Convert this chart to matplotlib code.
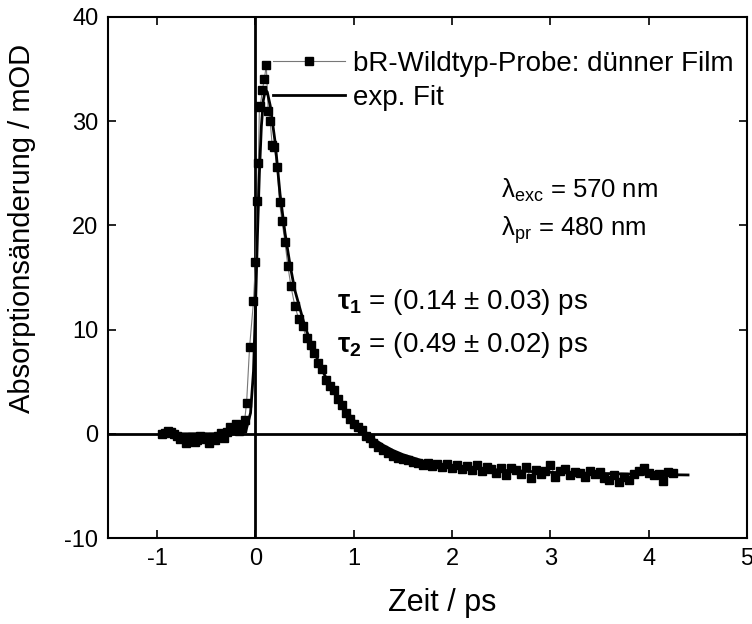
import matplotlib
matplotlib.use("Agg")
import matplotlib.pyplot as plt

plt.rcParams['font.family'] = ['Liberation Sans', 'DejaVu Sans']
plt.rcParams['mathtext.fontset'] = 'custom'
plt.rcParams['mathtext.rm'] = 'Liberation Sans'
plt.rcParams['mathtext.it'] = 'Liberation Sans:italic'
plt.rcParams['mathtext.bf'] = 'Liberation Sans:bold'

# Measured data (time in ps, absorption change in mOD)
t_data = [-0.95, -0.92, -0.89, -0.86, -0.83, -0.80, -0.77, -0.74, -0.71, -0.68,
          -0.65, -0.62, -0.59, -0.56, -0.53, -0.50, -0.47, -0.44, -0.41, -0.38,
          -0.35, -0.32, -0.29, -0.26, -0.23, -0.20, -0.17, -0.14, -0.11, -0.09,
          -0.06, -0.02, 0.00, 0.02, 0.03, 0.04, 0.05, 0.07, 0.09, 0.11,
          0.13, 0.15, 0.17, 0.19, 0.22, 0.245, 0.27, 0.30, 0.33, 0.36,
          0.40, 0.44, 0.48, 0.52, 0.56, 0.60, 0.64, 0.68, 0.72, 0.76,
          0.80, 0.84, 0.88, 0.92, 0.96, 1.00, 1.04, 1.08, 1.12, 1.16,
          1.20, 1.25, 1.30, 1.35, 1.40, 1.45, 1.50, 1.55, 1.60, 1.65,
          1.70, 1.75, 1.80, 1.85, 1.90, 1.95, 2.00, 2.05, 2.10, 2.15,
          2.20, 2.25, 2.30, 2.35, 2.40, 2.45, 2.50, 2.55, 2.60, 2.65,
          2.70, 2.75, 2.80, 2.85, 2.90, 2.95, 3.00, 3.05, 3.10, 3.15,
          3.20, 3.25, 3.30, 3.35, 3.40, 3.45, 3.50, 3.55, 3.60, 3.65,
          3.70, 3.75, 3.80, 3.85, 3.90, 3.95, 4.00, 4.05, 4.10, 4.15,
          4.20, 4.25]
a_data = [0.0, 0.1, 0.3, 0.2, 0.0, -0.2, -0.5, -0.4, -0.9, -0.7,
          -0.3, -0.8, -0.6, -0.2, -0.3, -0.5, -0.9, -0.3, -0.6, -0.2,
          0.1, -0.4, 0.2, 0.7, 0.4, 0.9, 0.3, 0.6, 1.3, 3.0,
          8.3, 12.7, 16.5, 22.3, 26.0, 31.4, 31.5, 33.0, 34.0, 35.4,
          31.0, 30.0, 27.7, 27.5, 25.6, 22.2, 20.4, 18.4, 16.1, 14.2,
          12.3, 11.0, 10.3, 9.2, 8.5, 7.8, 6.8, 6.2, 5.2, 4.6,
          4.2, 3.3, 2.8, 2.0, 1.4, 0.9, 0.7, 0.4, -0.2, -0.4,
          -0.9, -1.3, -1.6, -1.8, -2.1, -2.3, -2.4, -2.5, -2.7, -2.8,
          -3.0, -2.8, -3.1, -2.9, -3.2, -2.9, -3.3, -3.0, -3.4, -3.1,
          -3.5, -3.0, -3.6, -3.2, -3.4, -3.8, -3.3, -4.0, -3.3, -3.5,
          -3.9, -3.2, -4.2, -3.5, -3.9, -3.6, -3.0, -4.1, -3.6, -3.4,
          -4.0, -3.7, -3.8, -4.1, -3.6, -3.9, -3.7, -4.2, -4.4, -4.0,
          -4.6, -4.1, -4.4, -3.9, -3.6, -3.3, -3.8, -4.0, -3.9, -4.5,
          -3.7, -3.8]

# Exponential fit curve
t_fit = [-0.95, -0.5, -0.2, -0.1, -0.05, -0.02, 0.00, 0.02, 0.04, 0.06,
         0.08, 0.10, 0.12, 0.15, 0.20, 0.25, 0.30, 0.35, 0.40, 0.50,
         0.60, 0.70, 0.80, 0.90, 1.00, 1.10, 1.20, 1.30, 1.40, 1.50,
         1.70, 2.00, 2.50, 3.00, 3.50, 4.00, 4.40]
a_fit = [0.0, 0.0, 0.0, 0.2, 2.0, 6.0, 12.0, 19.0, 25.0, 29.5,
         32.0, 33.0, 32.8, 31.5, 28.0, 23.0, 19.3, 16.3, 13.8, 10.4,
         7.8, 5.7, 3.9, 2.5, 1.3, 0.3, -0.5, -1.1, -1.6, -2.0,
         -2.6, -3.1, -3.5, -3.7, -3.8, -3.9, -3.95]

fig = plt.figure(figsize=(7.52, 6.24), dpi=100)
ax = fig.add_axes([0.1436, 0.1378, 0.8498, 0.835])

ax.axhline(0, color='black', lw=2.0, zorder=1)
ax.axvline(0, color='black', lw=2.0, zorder=1)

ax.plot(t_data, a_data, color='#777777', lw=0.8, marker='s', ms=6,
        mfc='black', mec='black', label='bR-Wildtyp-Probe: dünner Film', zorder=3)
ax.plot(t_fit, a_fit, color='black', lw=2.0, label='exp. Fit', zorder=4)

ax.set_xlim(-1.5, 5)
ax.set_ylim(-10, 40)
ax.set_xticks([-1, 0, 1, 2, 3, 4, 5])
ax.set_xticklabels(['-1', '0', '1', '2', '3', '4', '5'])
ax.set_yticks([-10, 0, 10, 20, 30, 40])
ax.set_yticklabels(['-10', '0', '10', '20', '30', '40'])
ax.tick_params(direction='in', length=6, width=1.2, labelsize=17,
               top=True, right=True, pad=7)
for s in ax.spines.values():
    s.set_linewidth(1.5)

ax.set_xlabel('Zeit / ps', fontsize=22, labelpad=6)
ax.xaxis.set_label_coords(0.523, -0.095)
ax.set_ylabel('Absorptionsänderung / mOD', fontsize=21)
ax.yaxis.set_label_coords(-0.113, 0.595)

leg = ax.legend(loc='upper left', bbox_to_anchor=(0.258, 0.935), frameon=False,
                fontsize=20, handlelength=2.6, handletextpad=0.3,
                labelspacing=0.3, numpoints=1, borderaxespad=0, borderpad=0)

ax.text(0.615, 0.668, r'λ$_{\mathregular{exc}}$ = 570 nm', transform=ax.transAxes,
        fontsize=18.5, ha='left', va='center')
ax.text(0.615, 0.59, r'λ$_{\mathregular{pr}}$ = 480 nm', transform=ax.transAxes,
        fontsize=18.5, ha='left', va='center')
ax.text(0.358, 0.453, r'$\mathbf{\tau_1}$ = (0.14 ± 0.03) ps', transform=ax.transAxes,
        fontsize=20, ha='left', va='center')
ax.text(0.358, 0.37, r'$\mathbf{\tau_2}$ = (0.49 ± 0.02) ps', transform=ax.transAxes,
        fontsize=20, ha='left', va='center')

fig.savefig('out.png', dpi=100)
